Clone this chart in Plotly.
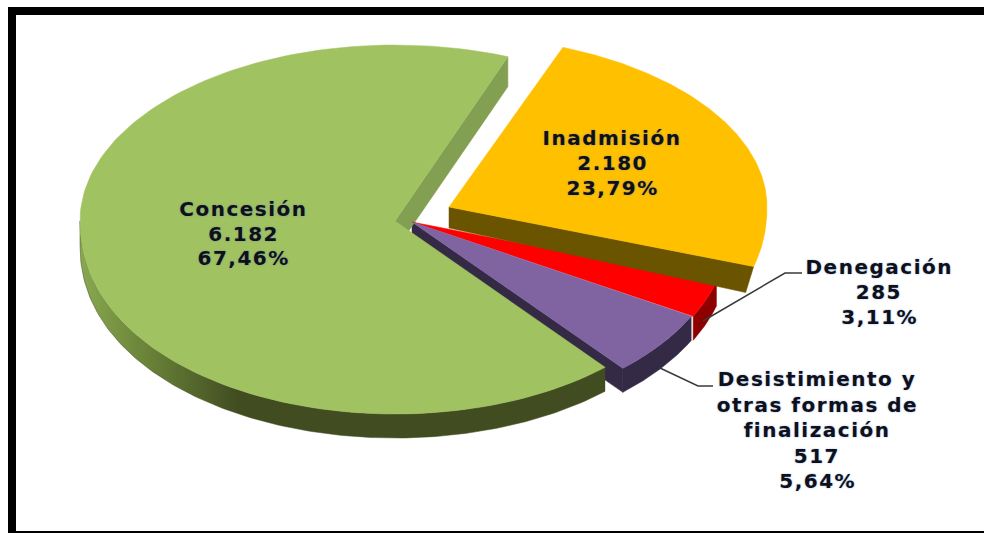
import numpy as np
import plotly.graph_objects as go

categories = ["Inadmisión", "Denegación", "Desistimiento y otras formas de finalización", "Concesión"]
values = [2180, 285, 517, 6182]
colors_top = ["#FFC000", "#FF0000", "#8064A2", "#A1C261"]
colors_side = ["#6B5400", "#8E0000", "#342A46", "#414D21"]
radial_wall = ["#6B5400", "#8E0000", "#342A46", "#83A052"]
label_lines = [
    ["Inadmisión", "2.180", "23,79%"],
    ["Denegación", "285", "3,11%"],
    ["Desistimiento y", "otras formas de", "finalización", "517", "5,64%"],
    ["Concesión", "6.182", "67,46%"],
]

# view of the tilted pie, in pixel-like axis units
START = 21.0
TIPS = [(449, 207), (412, 222), (412, 222), (395, 221)]
RX = [318, 318, 316, 315]
RY_UP = [171, 175, 175, 176]
RY_DOWN = 193
POWER = 0.94
DEPTH = 24

total = sum(values)
edges = START + np.concatenate([[0], np.cumsum(values)]) * 360 / total


def rim(i, a):
    a = np.radians(a)
    u, v = np.sin(a), -np.cos(a)
    x = TIPS[i][0] + RX[i] * u
    y = TIPS[i][1] + np.where(v >= 0, RY_DOWN * np.abs(v) ** POWER, -RY_UP[i] * np.abs(v))
    return x, y


fig = go.Figure()


def poly(x, y, color, gradient=None):
    kw = dict(fillgradient=gradient) if gradient else dict(fillcolor=color)
    fig.add_trace(go.Scatter(x=x, y=y, mode="lines", fill="toself",
                             line=dict(color=color, width=0.5), hoverinfo="skip", showlegend=False, **kw))


def top(i):
    x, y = rim(i, np.linspace(edges[i], edges[i + 1], 160))
    poly(np.r_[TIPS[i][0], x, TIPS[i][0]], np.r_[TIPS[i][1], y, TIPS[i][1]], colors_top[i])


def radial(i, angle, tip_depth, rim_depth, rim_dx=0):
    x, y = rim(i, np.array([angle]))
    tx, ty = TIPS[i]
    poly([tx, x[0], x[0] + rim_dx, tx, tx], [ty, y[0], y[0] + rim_depth, ty + tip_depth, ty], radial_wall[i])


def outer(i, a0, a1, gradient=None):
    x, y = rim(i, np.linspace(a0, a1, 160))
    poly(np.r_[x, x[::-1]], np.r_[y, (y + DEPTH)[::-1]], colors_side[i], gradient)


# back to front
radial(2, edges[3], DEPTH, DEPTH)
radial(3, edges[4], 30, 30)
green_wall = dict(type="horizontal", colorscale=[[0, "#8AA850"], [0.12, "#6B8539"], [0.3, "#414D21"], [1, "#414D21"]])
outer(3, edges[3], 270, green_wall)
top(3)
outer(1, edges[1], edges[2])
outer(2, edges[2], edges[3])
top(1)
top(2)
radial(0, edges[1], 21, 26, -8)
top(0)

# leader lines
fig.add_trace(go.Scatter(x=[703, 785, 802], y=[321, 273, 273], mode="lines",
                         line=dict(color="#3A3A3A", width=1.5), hoverinfo="skip", showlegend=False))
fig.add_trace(go.Scatter(x=[660, 698, 713], y=[368, 386, 386], mode="lines",
                         line=dict(color="#3A3A3A", width=1.5), hoverinfo="skip", showlegend=False))

anchors = [(612, 138), (879, 267), (817, 379), (243, 209)]
spacing = [25, 25, 25.5, 24.5]
annotations = []
for i, lines in enumerate(label_lines):
    for j, s in enumerate(lines):
        annotations.append(dict(
            x=anchors[i][0], y=anchors[i][1] + j * spacing[i], xref="x", yref="y",
            text=s, showarrow=False, xanchor="center", yanchor="middle",
            font=dict(family="DejaVu Sans", size=20, color="#101018", weight="bold",
                      shadow="0 0 2px rgba(70,120,210,0.55)"),
        ))

shapes = [
    dict(type="rect", x0=8, x1=16, y0=7, y1=533, xref="x", yref="y", fillcolor="#000", line_width=0),
    dict(type="rect", x0=8, x1=984, y0=7, y1=15, xref="x", yref="y", fillcolor="#000", line_width=0),
    dict(type="rect", x0=8, x1=984, y0=531, y1=533, xref="x", yref="y", fillcolor="#000", line_width=0),
]

fig.update_layout(
    width=984, height=533, margin=dict(l=0, r=0, t=0, b=0),
    paper_bgcolor="white", plot_bgcolor="white", showlegend=False,
    xaxis=dict(range=[0, 984], visible=False, fixedrange=True),
    yaxis=dict(range=[533, 0], visible=False, fixedrange=True),
    shapes=shapes, annotations=annotations,
)
post = """
document.body.style.margin = '0';
document.documentElement.style.overflow = 'hidden';
var s = document.createElement('style');
s.textContent = '.annotation-text{letter-spacing:1.5px}';
document.head.appendChild(s);
"""
fig.write_html("out.html", config=dict(displayModeBar=False), post_script=post)
